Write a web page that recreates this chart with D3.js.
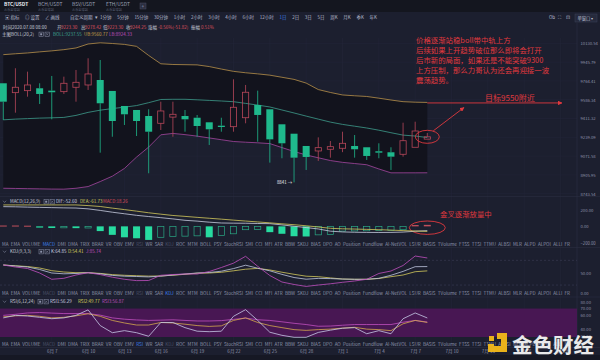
<!DOCTYPE html>
<html><head><meta charset="utf-8">
<script src="https://cdn.jsdelivr.net/npm/d3@7/dist/d3.min.js"></script>
<style>
html,body{margin:0;padding:0;background:#1c1e2e;overflow:hidden}
svg{display:block;font-family:"Noto Sans CJK SC","Noto Sans",sans-serif}
</style></head><body>
<svg id="c" width="600" height="360"></svg>
<script>
// ---------- DATA ----------
const dates = ["2020-06-03","2020-06-04","2020-06-05","2020-06-06","2020-06-07","2020-06-08","2020-06-09","2020-06-10","2020-06-11","2020-06-12","2020-06-13","2020-06-14","2020-06-15","2020-06-16","2020-06-17","2020-06-18","2020-06-19","2020-06-20","2020-06-21","2020-06-22","2020-06-23","2020-06-24","2020-06-25","2020-06-26","2020-06-27","2020-06-28","2020-06-29","2020-06-30","2020-07-01","2020-07-02","2020-07-03","2020-07-04","2020-07-05","2020-07-06","2020-07-07","2020-07-08"];
const open  = [9741.7,9652.7,9671.6,9694.3,9671.6,9662.1,9703.8,9725.6,9773.1,9668.8,9527.6,9490.4,9434.6,9367.4,9424.3,9434.6,9418.7,9376.6,9345.5,9336.4,9418.7,9536.9,9496.9,9358.3,9272.4,9161.7,9117.1,9132.2,9141.2,9161.7,9150.1,9114.4,9105.5,9087.6,9150.1,9223.30];
const high  = [9741.7,9886.0,9853.2,9741.7,9811.7,9805.0,9869.6,9983.1,9966.4,9668.8,9527.6,9490.4,9496.9,9567.7,9567.7,9490.4,9444.1,9376.6,9418.7,9779.8,9725.6,9671.6,9496.9,9358.3,9272.4,9161.7,9239.4,9206.4,9290.6,9260.5,9150.1,9185.8,9150.1,9372.9,9382.1,9278.42];
const low   = [9397.6,9465.3,9614.8,9546.3,9404.0,9640.3,9567.7,9678.2,9101.9,9244.9,9351.9,9251.4,8920.1,9306.2,9244.9,9290.6,9244.9,9170.6,9290.6,9290.6,9367.4,9200.1,9013.5,9052.2,8841.0,8949.1,9028.4,9057.5,9106.4,9057.5,9037.2,9052.2,8949.1,9066.3,9150.1,9223.30];
const close = [9567.7,9703.8,9725.6,9640.3,9656.4,9741.7,9751.1,9831.0,9552.8,9388.5,9450.4,9388.5,9290.6,9481.1,9450.4,9404.0,9342.7,9312.6,9333.6,9515.5,9656.4,9444.1,9221.5,9185.8,9057.5,9063.7,9146.5,9155.5,9185.8,9132.2,9072.5,9101.9,9066.3,9209.0,9297.0,9244.25];
const bollMid = [9399.4,9405.8,9410.4,9415.0,9417.8,9421.5,9440.1,9468.1,9488.5,9503.4,9516.5,9531.4,9558.4,9588.3,9590.2,9590.2,9585.4,9579.8,9574.2,9567.7,9551.9,9536.0,9518.3,9490.4,9462.5,9433.6,9405.8,9378.4,9357.4,9340.9,9324.5,9304.4,9281.5,9259.6,9251.4,9237.55];
const bollUB  = [10018.5,10027.3,10035.2,10046.0,10055.8,10067.6,10084.3,10123.7,10135.5,10128.6,10119.7,10100.1,10010.6,9929.4,9922.6,9920.7,9918.8,9902.4,9878.3,9856.1,9842.5,9831.9,9819.4,9799.1,9778.9,9743.6,9682.0,9654.5,9630.9,9623.3,9616.7,9600.6,9583.5,9568.0,9563.0,9560.77];
const bollLB  = [8790.2,8788.5,8786.8,8785.0,8783.3,8782.5,8790.2,8804.9,8848.1,8894.8,8962.4,9062.8,9151.9,9262.3,9275.1,9264.1,9250.4,9234.0,9218.0,9201.9,9195.6,9190.3,9183.1,9147.4,9112.6,9081.4,9056.6,9032.0,9016.1,9005.5,8995.0,8958.0,8924.0,8924.0,8924.0,8924.33];
const macdHist = [10,10,8,-15,-20,-18,-22,-20,-58,-104,-134,-146,-166,-134,-125,-120,-116,-134,-112,-91,-41,-38,-71,-91,-121,-124,-104,-100,-58,-56,-54,-50,-48,-41,16,18.26];
const macdDIF  = [241,239,235,232,229,226,224,214,195,173,154,135,120,106,91,74,64,51,41,39,38,35,33,18,1,-15,-32,-59,-68,-72,-74,-75,-74,-70,-60,-52.60];
const macdDEA  = [262,262,262,262,262,262,262,254,243,223,205,186,166,149,133,122,110,99,88,76,65,54,43,31,20,7,-8,-24,-30,-33,-37,-41,-46,-52,-57,-61.73];
const kdjK = [68.7,66.3,63.8,57.8,49.3,47.3,48.1,50,47.3,43.4,41.5,40.8,39.8,41.7,44.4,46.8,49.3,50.5,53.6,60,68.2,60.9,54.6,45.9,38.3,34.2,36.2,35.7,34.5,34,34,36.4,43.7,53.2,64.6,64.85];
const kdjD = [68.7,66.7,65,61.4,54.9,51.7,50,50,48.3,45.4,43.7,42.7,41.7,42,43.9,46.1,48.8,49.3,51,54.6,58.5,60.4,56.6,51.2,46.1,41.5,40.3,37.4,34.7,34,34,35.9,40.3,44.4,52.4,54.41];
const kdjJ = [68.7,63.8,60.2,49.3,34,36.4,44.4,50,45.4,39.1,34,30.8,31.1,43.7,45.6,46.8,46.8,52.9,62.6,73.1,89.8,65.5,43.2,27.4,21.4,16.7,20.1,23.1,26.7,29.9,34,48.1,54.1,67.5,90.5,85.74];
const rsi1 = [56.4,60.1,59.1,57.2,55.2,56.4,60.1,68.1,45.2,34.8,37.8,34.8,29.6,49.7,49.7,42.2,37,36.3,37,58.7,68.4,52.7,35.5,31,28.1,28.1,35.2,38.5,41.3,42.2,33.3,37.8,33.3,55.2,63.6,56.29];
const rsi2 = [57.9,59.4,60.1,58.7,56.4,57.2,59.4,62.4,58.7,52.7,49,46,46,49.7,49,47.2,45.2,44,44.8,52.7,56.4,49.7,45.2,42.2,39.3,38.2,39.3,40,41.5,42.7,40,39.3,37.8,47.8,52.7,49.77];
const rsi3 = [60.1,61.6,63.6,64.2,63.4,62.7,62.7,62.7,60.4,56.4,54.5,53.4,52.7,53.1,53.6,52.7,51.9,51.9,52.4,54.2,56.1,53.7,52.7,50.7,48.5,46.7,44.2,44.5,45.7,46.7,46.7,46.7,46.7,50.1,52.7,50.4];
const priceTicks = [10130.54,9945.79,9764.41,9586.34,9411.32,9239.09,9071.58,8905.95,8743.54];
const macdTicks = [200,0,-200];
const kdjTicks = [50,0];
const rsiTicks = [80,70,60,40,30];
const dateTicks = ["2020-06-07","2020-06-10","2020-06-13","2020-06-16","2020-06-19","2020-06-22","2020-06-25","2020-06-28","2020-07-01","2020-07-04","2020-07-07","2020-07-10","2020-07-13","2020-07-16","2020-07-19"];
const pairTabs = ["BTC/USDT","BCH/USDT","BSV/USDT","ETH/USDT"];
const periods = ["1分钟","5分钟","15分钟","30分钟","1小时","2小时","3小时","4小时","6小时","12小时","1日","2日","3日","5日","周K","月K","季K","年K"];
const indicatorTabs = ["MA","EMA","VOLUME","MACD","DMI","DMA","TRIX","BRAR","VR","OBV","EMV","RSI","WR","SAR","KDJ","ROC","MTM","BOLL","PSY","StochRSI","SMI","CCI","MFI","ATR","BBW","SKDJ","BIAS","DPO","AO","Position","Fundflow","AI-NetVOL","LSUR","BASIS","TVolume","FTSS","TTSI","TTMU","ALBSI","MLR","ALPD","ALPOI","ALLI","FR"];
const noteLines = ["价格逐渐站稳boll带中轨上方","后续如果上开趋势破位那么即将会打开","后市新的局面，如果还是不能突破9300","上方压制，那么力哥认为还会再迎接一波","震荡趋势。"];

// ---------- SETUP ----------
const svg = d3.select("#c");
const parse = d3.timeParse("%Y-%m-%d");
const X = dates.map(parse);
const PR = 577; // plot right edge
const FS = 4.5; // small UI font
const x = d3.scaleTime().domain(d3.extent(X)).range([3.3, 427.3]);
const yMain = d3.scaleLog().domain([8743.54, 10130.54]).range([193.7, 43.3]);
const yMacd = d3.scaleLinear().domain([-200, 200]).range([242.7, 210]);
const yKdj = d3.scaleLinear().domain([0, 50]).range([293.3, 272.7]);
const yRsi = d3.scaleLinear().domain([30, 80]).range([336, 301.7]);
const idx = d3.range(dates.length);
const RED = "#b8475a", GREEN = "#1fb98c", TXT = "#8c92a9";

svg.append("rect").attr("width",600).attr("height",360).attr("fill","#1c1f2f");
svg.append("rect").attr("width",600).attr("height",12).attr("fill","#14161f");
svg.append("rect").attr("y",355).attr("width",600).attr("height",5).attr("fill","#161824");

const defs = svg.append("defs");
defs.append("clipPath").attr("id","cm").append("rect").attr("x",0).attr("y",36).attr("width",PR).attr("height",160);
const mk = defs.append("marker").attr("id","arr").attr("viewBox","0 0 10 10").attr("refX",9).attr("refY",5)
  .attr("markerWidth",5).attr("markerHeight",5).attr("orient","auto");
mk.append("path").attr("d","M0,0L10,5L0,10z").attr("fill","#e0393e");

// ---------- TOP BARS ----------
const tabs = svg.append("g");
pairTabs.forEach((t,i)=>{
  const tx = 4 + i*34;
  tabs.append("text").attr("x",tx).attr("y",6).attr("font-size",4.9).attr("font-weight", i===0?"bold":"normal")
    .attr("fill", i===0?"#e6e8f0":"#9da2b8").text(t);
  tabs.append("text").attr("x",tx).attr("y",10.6).attr("font-size",3.2).attr("fill","#5c6178").text("火币全球站");
});
tabs.append("rect").attr("x",140).attr("y",3).attr("width",6).attr("height",6).attr("fill","#2b2e40").attr("stroke","#474b62").attr("stroke-width",0.5);
tabs.append("text").attr("x",143).attr("y",7.6).attr("text-anchor","middle").attr("font-size",5).attr("fill","#9da2b8").text("+");

const tb = svg.append("g").attr("font-size",FS).attr("fill","#b7bbcc");
[["▣ 指标",5],["◎ 设置",25],["∠ 画线",45],["自定义周期",70],["▾",94.5]].forEach(([t,px])=>{
  tb.append("text").attr("x",px).attr("y",18.6).text(t);
});
const per = tb.selectAll("text.p").data(periods).join("text").attr("class","p").attr("y",18.6)
  .attr("fill",d=>d==="1日"?"#3d7fe6":"#b7bbcc").text(d=>d);
{
  const w = per.nodes().map(n=>n.getComputedTextLength());
  const gap = (377 - 100 - d3.sum(w)) / (w.length-1);
  let cx = 100; per.attr("x",(d,i)=>{const v=cx; cx+=w[i]+gap; return v;});
}
tb.append("text").attr("x",549).attr("y",18.6).text("Ob");
tb.append("text").attr("x",558).attr("y",18.6).text("⛶");
tb.append("text").attr("x",566).attr("y",18.6).text("⊡");
tb.append("rect").attr("x",575).attr("y",14).attr("width",22).attr("height",8).attr("fill","#262a3c").attr("stroke","#3b4058").attr("stroke-width",0.5);
tb.append("text").attr("x",577.5).attr("y",19.6).attr("font-size",4.3).text("单窗口 ▾");

// info row
const info = svg.append("g").attr("font-size",FS);
const VAL = "#dd505c", LBL = "#c8cbd8";
[["时间2020.07.08 08:00",3,LBL],["开:",57,LBL],["9223.30",61,VAL],["高:",81,LBL],["9278.42",85,VAL],["低:",103,LBL],["9223.30",107,VAL],
 ["收:",126,LBL],["9244.25",130,VAL],["涨幅",148,LBL],["-0.56%(-51.82)",158,VAL],["振幅",191,LBL],["0.51%",201,VAL]].forEach(([t,px,c])=>{
  info.append("text").attr("x",px).attr("y",29).attr("fill",c).text(t);
});
function icons(g, x0, yc){
  [x0, x0+6].forEach((ix,k)=>{
    g.append("rect").attr("x",ix).attr("y",yc-2.2).attr("width",4.4).attr("height",4.4).attr("fill","none").attr("stroke","#8d93ab").attr("stroke-width",0.5);
    if(k===1){ g.append("path").attr("d",`M${ix+1},${yc-1.2}L${ix+3.4},${yc+1.2}M${ix+3.4},${yc-1.2}L${ix+1},${yc+1.2}`).attr("stroke","#8d93ab").attr("stroke-width",0.5); }
    else { g.append("rect").attr("x",ix+1.2).attr("y",yc-1).attr("width",2).attr("height",2).attr("fill","#8d93ab"); }
  });
}
info.append("text").attr("x",2).attr("y",36).attr("fill",LBL).text("主图BOLL(20,2)");
icons(info, 39, 34.3);
info.append("text").attr("x",53).attr("y",36).attr("fill","#3ea593").text("BOLL:9237.55");
info.append("text").attr("x",84).attr("y",36).attr("fill","#c9a14a").text("UB:9560.77");
info.append("text").attr("x",109).attr("y",36).attr("fill","#c04fbf").text("LB:8924.33");

// ---------- GRID ----------
const grid = svg.append("g").attr("stroke","#24273a").attr("stroke-width",0.5);
grid.selectAll("line.v").data(dateTicks.map(parse)).join("line").attr("class","v")
  .attr("x1",d=>x(d)).attr("x2",d=>x(d)).attr("y1",38).attr("y2",348);
grid.selectAll("line.h").data(priceTicks).join("line").attr("class","h")
  .attr("x1",0).attr("x2",PR).attr("y1",d=>yMain(d)).attr("y2",d=>yMain(d));
[196.5, 247.5, 297, 347.5].forEach(yy=>svg.append("line").attr("x1",0).attr("x2",600).attr("y1",yy).attr("y2",yy).attr("stroke","#2a2d40").attr("stroke-width",0.6));
svg.append("line").attr("x1",PR).attr("x2",PR).attr("y1",23).attr("y2",348).attr("stroke","#2e3145").attr("stroke-width",0.6);

// ---------- MAIN PANE ----------
const main = svg.append("g").attr("clip-path","url(#cm)");
main.append("path").datum(idx).attr("fill","#12131d")
  .attr("d", d3.area().x(i=>x(X[i])).y0(i=>yMain(bollLB[i])).y1(i=>yMain(bollUB[i])));
const ln = (arr, sc) => d3.line().x(i=>x(X[i])).y(i=>sc(arr[i]));
[[bollUB,"#b8914a"],[bollMid,"#3e9c8c"],[bollLB,"#a5469f"]].forEach(([a,c])=>{
  main.append("path").datum(idx).attr("fill","none").attr("stroke",c).attr("stroke-width",0.8).attr("d",ln(a,yMain));
});
const bw = 7;
idx.forEach(i=>{
  const cx = x(X[i]);
  const up = close[i] >= open[i];
  const top = yMain(Math.max(open[i],close[i])), bot = yMain(Math.min(open[i],close[i]));
  const col = up ? RED : GREEN;
  main.append("line").attr("x1",cx).attr("x2",cx).attr("y1",yMain(high[i])).attr("y2",top).attr("stroke",col).attr("stroke-width",0.8);
  main.append("line").attr("x1",cx).attr("x2",cx).attr("y1",bot).attr("y2",yMain(low[i])).attr("stroke",col).attr("stroke-width",0.8);
  if(up){
    main.append("rect").attr("x",cx-bw/2+0.4).attr("y",top).attr("width",bw-0.8).attr("height",Math.max(0.8,bot-top))
      .attr("fill","none").attr("stroke",col).attr("stroke-width",0.8);
  } else {
    main.append("rect").attr("x",cx-bw/2).attr("y",top).attr("width",bw).attr("height",Math.max(1,bot-top)).attr("fill",col);
  }
});
const iLow = d3.minIndex(low);
main.append("text").attr("x",x(X[iLow])-2).attr("y",yMain(low[iLow])+1.6).attr("text-anchor","end")
  .attr("font-size",4.4).attr("fill","#e8e8ee").text(d3.format(".0f")(low[iLow])+" →");

function styleAxis(g){ g.select(".domain").remove(); g.selectAll("text").attr("font-size",4.2).attr("fill",TXT).attr("font-family","Noto Sans CJK SC"); }
styleAxis(svg.append("g").attr("transform",`translate(${PR},0)`)
  .call(d3.axisRight(yMain).tickValues(priceTicks).tickSize(0).tickPadding(3.5).tickFormat(d3.format(".2f"))));

// annotations
const ann = svg.append("g");
const nt = ann.append("text").attr("font-size",7.4).attr("fill","#e0393e");
noteLines.forEach((t,k)=>nt.append("tspan").attr("x",416).attr("y",42.5+k*10.2).text(t));
const last = dates.length-1;
ann.append("ellipse").attr("cx",x(X[last])).attr("cy",yMain(close[last])).attr("rx",12).attr("ry",6.5)
  .attr("fill","none").attr("stroke","#e0393e").attr("stroke-width",0.9);
ann.append("line").attr("x1",x(X[last])+6).attr("y1",yMain(close[last])-6).attr("x2",464).attr("y2",107.5)
  .attr("stroke","#e0393e").attr("stroke-width",0.9).attr("marker-end","url(#arr)");
ann.append("line").attr("x1",x(X[last])).attr("y1",yMain(9556)).attr("x2",562).attr("y2",yMain(9556))
  .attr("stroke","#e0393e").attr("stroke-width",0.9).attr("marker-end","url(#arr)");
ann.append("text").attr("x",485).attr("y",100.8).attr("font-size",8).attr("fill","#e0393e").text("目标9550附近");

// ---------- MACD PANE ----------
function header(yc, name, items){
  const g = svg.append("g").attr("font-size",FS);
  g.append("path").attr("d",`M3,${yc-1}L4.6,${yc+0.8}L6.2,${yc-1}`).attr("fill","none").attr("stroke","#8d93ab").attr("stroke-width",0.5);
  g.append("text").attr("x",10).attr("y",yc+1.6).attr("fill",LBL).text(name);
  icons(g, items.ix, yc);
  items.list.forEach(([t,px,c])=>g.append("text").attr("x",px).attr("y",yc+1.6).attr("fill",c).text(t));
}
header(201.7,"MACD(12,26,9)",{ix:44,list:[["DIF:-52.60",56,"#d0d3e2"],["DEA:-61.73",80,"#d8cf5e"],["MACD:18.26",103,"#dd505c"]]});
const mg = svg.append("g");
idx.forEach(i=>{
  const v = macdHist[i], cx = x(X[i]);
  const y0 = yMacd(0), y1 = yMacd(v);
  const grow = i===0 || Math.abs(v) >= Math.abs(macdHist[i-1]);
  const col = v>=0 ? "#c0505c" : (grow ? "#27dba0" : "#2aa985");
  const yy = Math.min(y0,y1), hh = Math.max(1, Math.abs(y1-y0));
  if(grow || v>=0) mg.append("rect").attr("x",cx-bw/2).attr("y",yy).attr("width",bw).attr("height",hh).attr("fill",col);
  else mg.append("rect").attr("x",cx-bw/2+0.4).attr("y",yy).attr("width",bw-0.8).attr("height",hh).attr("fill","none").attr("stroke",col).attr("stroke-width",0.7);
});
mg.append("path").datum(idx).attr("fill","none").attr("stroke","#c8cde0").attr("stroke-width",0.8).attr("d",ln(macdDIF,yMacd));
mg.append("path").datum(idx).attr("fill","none").attr("stroke","#d3c95c").attr("stroke-width",0.8).attr("d",ln(macdDEA,yMacd));
ann.append("ellipse").attr("cx",x(X[last])).attr("cy",227.7).attr("rx",18).attr("ry",6.7).attr("fill","none").attr("stroke","#e0393e").attr("stroke-width",0.9);
ann.append("text").attr("x",440).attr("y",216.8).attr("font-size",7.4).attr("fill","#e0393e").text("金叉逐渐放量中");
styleAxis(svg.append("g").attr("transform",`translate(${PR},0)`).call(d3.axisRight(yMacd).tickValues(macdTicks).tickSize(0).tickPadding(3.5).tickFormat(d3.format(".2f"))));

function tabRow(yb, active, dim){
  const g = svg.append("g").attr("font-size",4.6);
  const t = g.selectAll("text").data(indicatorTabs).join("text").attr("y",yb)
    .attr("fill",d=>d===active?"#3d7fe6":(dim.includes(d)?"#4a4f66":"#8d93ab")).text(d=>d);
  const w = t.nodes().map(n=>n.getComputedTextLength());
  const gap = (570 - 2 - d3.sum(w))/(w.length-1);
  let cx = 2; t.attr("x",(d,i)=>{const v=cx; cx+=w[i]+gap; return v;});
}
tabRow(245.8,"MACD",["RSI","KDJ"]);

// ---------- KDJ PANE ----------
header(251.7,"KDJ(9,3,3)",{ix:39,list:[["K:64.85",51,"#d0d3e2"],["D:54.41",68,"#d8cf5e"],["J:85.74",86,"#c04fbf"]]});
const kg = svg.append("g");
[80,20].forEach(v=>kg.append("line").attr("x1",0).attr("x2",PR).attr("y1",yKdj(v)).attr("y2",yKdj(v)).attr("stroke","#3a3e56").attr("stroke-width",0.6).attr("stroke-dasharray","2,2"));
[[kdjD,"#d3c95c"],[kdjK,"#bfc6e0"],[kdjJ,"#c04fbf"]].forEach(([a,c])=>kg.append("path").datum(idx).attr("fill","none").attr("stroke",c).attr("stroke-width",0.8).attr("d",ln(a,yKdj)));
styleAxis(svg.append("g").attr("transform",`translate(${PR},0)`).call(d3.axisRight(yKdj).tickValues(kdjTicks).tickSize(0).tickPadding(3.5).tickFormat(d3.format(".2f"))));
tabRow(295.2,"KDJ",["MACD","RSI"]);

// ---------- RSI PANE ----------
header(301.7,"RSI(6,12,24)",{ix:38,list:[["RSI1:56.29",50,"#d0d3e2"],["RSI2:49.77",78,"#d8cf5e"],["RSI3:56.87",102,"#c04fbf"]]});
const rg = svg.append("g");
rg.append("rect").attr("x",0).attr("y",yRsi(70)).attr("width",PR).attr("height",yRsi(30)-yRsi(70)+1).attr("fill","#481753");
[[rsi3,"#c04fbf"],[rsi2,"#d3a84c"],[rsi1,"#c5c9e6"]].forEach(([a,c])=>rg.append("path").datum(idx).attr("fill","none").attr("stroke",c).attr("stroke-width",0.8).attr("d",ln(a,yRsi)));
styleAxis(svg.append("g").attr("transform",`translate(${PR},0)`).call(d3.axisRight(yRsi).tickValues(rsiTicks).tickSize(0).tickPadding(3.5).tickFormat(d3.format(".2f"))));
tabRow(345.6,"RSI",["MACD","KDJ"]);

// ---------- DATE AXIS ----------
const ax = svg.append("g").attr("transform","translate(0,348.5)")
  .call(d3.axisBottom(x).tickValues(dateTicks.map(parse)).tickSize(0).tickPadding(1.5)
  .tickFormat(d=>(d.getMonth()+1)+"月 "+d.getDate()));
styleAxis(ax);
ax.selectAll("text").attr("font-size",4.6);

// ---------- WATERMARK ----------
const wm = svg.append("g").attr("opacity",0.96);
wm.append("path").attr("d","M497,333h10v19h-19v-8h6v2h7v-7h-4z").attr("fill","#f2b81a");
wm.append("rect").attr("x",489).attr("y",336).attr("width",5).attr("height",5).attr("fill","#f2b81a");
wm.append("text").attr("x",512).attr("y",352.5).attr("font-size",20.5).attr("font-weight","bold").attr("fill","#f2f2f2").text("金色财经");
</script>
</body></html>
